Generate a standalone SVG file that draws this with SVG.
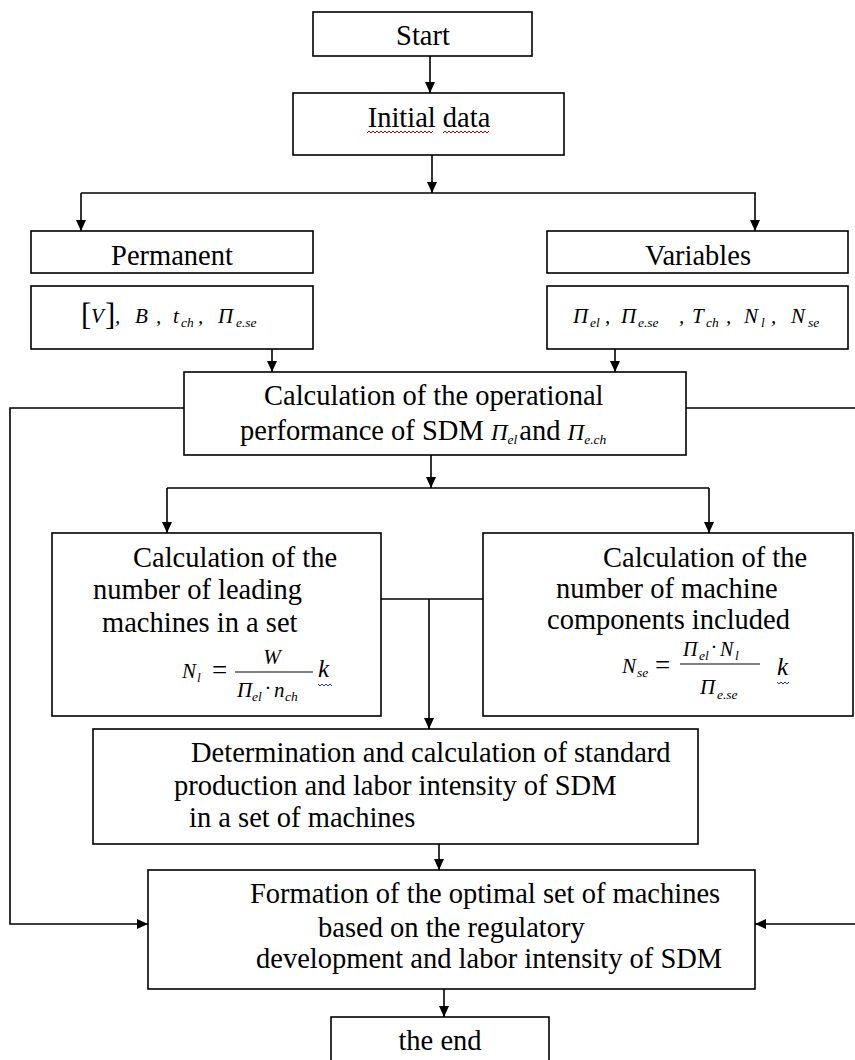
<svg xmlns="http://www.w3.org/2000/svg" width="855" height="1060" viewBox="0 0 855 1060">
<defs>
<marker id="ah" markerUnits="userSpaceOnUse" markerWidth="12" markerHeight="10" refX="11" refY="5" orient="auto">
<path d="M0,0 L11,5 L0,10 z" fill="#000"/>
</marker>
<style>
.box{fill:#fff;stroke:#000;stroke-width:1.6}
.t{font-family:"Liberation Serif","Times New Roman",serif;font-size:28.5px;fill:#000}
.m{font-family:"Liberation Serif","Times New Roman",serif;font-style:italic;font-size:21px;fill:#000}
.s{font-family:"Liberation Serif","Times New Roman",serif;font-style:italic;font-size:13.5px;fill:#000}
.c{stroke:#000;stroke-width:1.6;fill:none}
.a{stroke:#000;stroke-width:1.6;fill:none;marker-end:url(#ah)}
.wr{stroke:#c00000;stroke-width:1;fill:none}
.wb{stroke:#2030c0;stroke-width:1;fill:none}
</style>
</defs>
<rect width="855" height="1060" fill="#fff"/>

<g id="connectors">
<path class="a" d="M430,56 V93"/>
<path class="a" d="M432,155 V193"/>
<path class="c" d="M81,193 H756"/>
<path class="a" d="M81,193 V231"/>
<path class="a" d="M755,193 V231"/>
<path class="a" d="M272,349 V372"/>
<path class="a" d="M615,349 V372"/>
<path class="a" d="M431,455 V488"/>
<path class="c" d="M167,488 H709"/>
<path class="a" d="M167,488 V533"/>
<path class="a" d="M709,488 V533"/>
<path class="c" d="M381,599 H483"/>
<path class="a" d="M429,599 V729"/>
<path class="a" d="M439,844 V870"/>
<path class="a" d="M444,989 V1017"/>
<path class="a" d="M184,408 H10 V924 H148"/>
<path class="a" d="M686,408 H858 V924 H755"/>
</g>

<g id="start">
<rect class="box" x="313" y="12" width="219" height="44"/>
<text class="t" x="423" y="45" text-anchor="middle">Start</text>
</g>

<g id="initial-data">
<rect class="box" x="293" y="93" width="271" height="62"/>
<text class="t" x="429" y="127" text-anchor="middle">Initial data</text>
<path class="wr" d="M367,133 l2,-2 l2,2 l2,-2 l2,2 l2,-2 l2,2 l2,-2 l2,2 l2,-2 l2,2 l2,-2 l2,2 l2,-2 l2,2 l2,-2 l2,2 l2,-2 l2,2 l2,-2 l2,2 l2,-2 l2,2 l2,-2 l2,2 l2,-2 l2,2 l2,-2 l2,2 l2,-2 l2,2 l2,-2 l2,2 l2,-2"/>
<path class="wr" d="M443,133 l2,-2 l2,2 l2,-2 l2,2 l2,-2 l2,2 l2,-2 l2,2 l2,-2 l2,2 l2,-2 l2,2 l2,-2 l2,2 l2,-2 l2,2 l2,-2 l2,2 l2,-2 l2,2 l2,-2 l2,2 l2,-2"/>
</g>

<g id="permanent">
<rect class="box" x="31" y="231" width="282" height="42"/>
<text class="t" x="172" y="265" text-anchor="middle">Permanent</text>
</g>

<g id="permanent-values">
<rect class="box" x="31" y="286" width="282" height="63"/>
<text class="t" x="81" y="325" style="font-size:31px">[</text>
<text class="m" x="91" y="323">V</text>
<text class="t" x="105" y="325" style="font-size:31px">]</text>
<text class="m" x="115" y="323">,</text>
<text class="m" x="135" y="323">B</text>
<text class="m" x="156" y="323">,</text>
<text class="m" x="173" y="323">t</text>
<text class="s" x="181" y="327">ch</text>
<text class="m" x="198" y="323">,</text>
<text class="m" x="218" y="323">П</text>
<text class="s" x="236" y="327">e.se</text>
</g>

<g id="variables">
<rect class="box" x="547" y="231" width="301" height="42"/>
<text class="t" x="698" y="265" text-anchor="middle">Variables</text>
</g>

<g id="variables-values">
<rect class="box" x="547" y="286" width="301" height="63"/>
<text class="m" x="573" y="323">П</text>
<text class="s" x="590" y="327">el</text>
<text class="m" x="605" y="323">,</text>
<text class="m" x="621" y="323">П</text>
<text class="s" x="638" y="327">e.se</text>
<text class="m" x="679" y="323">,</text>
<text class="m" x="692" y="323">T</text>
<text class="s" x="706" y="327">ch</text>
<text class="m" x="726" y="323">,</text>
<text class="m" x="744" y="323">N</text>
<text class="s" x="761" y="327">l</text>
<text class="m" x="771" y="323">,</text>
<text class="m" x="791" y="323">N</text>
<text class="s" x="808" y="327">se</text>
</g>

<g id="operational-performance">
<rect class="box" x="184" y="372" width="502" height="83"/>
<text class="t" x="264" y="405">Calculation of the operational</text>
<text class="t" x="240" y="440">performance of SDM <tspan class="m" style="font-size:23px">П</tspan><tspan class="s" dy="4">el</tspan><tspan dy="-4" dx="2">and </tspan><tspan class="m" style="font-size:23px">П</tspan><tspan class="s" dy="4">e.ch</tspan></text>
</g>

<g id="leading-machines">
<rect class="box" x="52" y="533" width="329" height="183"/>
<text class="t" x="133" y="567">Calculation of the</text>
<text class="t" x="93" y="599">number of leading</text>
<text class="t" x="102" y="632">machines in a set</text>
<text class="m" x="182" y="678">N</text>
<text class="s" x="197" y="682">l</text>
<text class="t" x="212" y="679" style="font-size:27px">=</text>
<line class="c" x1="235" y1="672" x2="313" y2="672" style="stroke-width:1.2"/>
<text class="m" x="272" y="664" text-anchor="middle">W</text>
<text class="m" x="237" y="697">П</text>
<text class="s" x="252" y="701">el</text>
<text class="m" x="265" y="695">·</text>
<text class="m" x="274" y="697">n</text>
<text class="s" x="285" y="701">ch</text>
<text class="m" x="318" y="677" style="font-size:25px">k</text>
<path class="wb" d="M318,684 l2,2 l2,-2 l2,2 l2,-2 l2,2 l2,-2 l2,2"/>
</g>

<g id="machine-components">
<rect class="box" x="483" y="533" width="370" height="183"/>
<text class="t" x="603" y="567">Calculation of the</text>
<text class="t" x="556" y="598">number of machine</text>
<text class="t" x="547" y="629">components included</text>
<text class="m" x="622" y="673">N</text>
<text class="s" x="637" y="677">se</text>
<text class="t" x="655" y="674" style="font-size:27px">=</text>
<line class="c" x1="680" y1="664" x2="760" y2="664" style="stroke-width:1.2"/>
<text class="m" x="683" y="656" style="font-size:20px">П</text>
<text class="s" x="699" y="660">el</text>
<text class="m" x="711" y="654">·</text>
<text class="m" x="720" y="656" style="font-size:20px">N</text>
<text class="s" x="735" y="660">l</text>
<text class="m" x="700" y="694">П</text>
<text class="s" x="717" y="699">e.se</text>
<text class="m" x="777" y="675" style="font-size:25px">k</text>
<path class="wb" d="M777,682 l2,2 l2,-2 l2,2 l2,-2 l2,2 l2,-2"/>
</g>

<g id="standard-production">
<rect class="box" x="93" y="729" width="605" height="115"/>
<text class="t" x="191" y="762">Determination and calculation of standard</text>
<text class="t" x="174" y="795">production and labor intensity of SDM</text>
<text class="t" x="189" y="827">in a set of machines</text>
</g>

<g id="optimal-set">
<rect class="box" x="148" y="870" width="607" height="119"/>
<text class="t" x="250" y="903">Formation of the optimal set of machines</text>
<text class="t" x="318" y="937">based on the regulatory</text>
<text class="t" x="256" y="968">development and labor intensity of SDM</text>
</g>

<g id="end">
<rect class="box" x="331" y="1017" width="218" height="50"/>
<text class="t" x="440" y="1050" text-anchor="middle">the end</text>
</g>
</svg>
